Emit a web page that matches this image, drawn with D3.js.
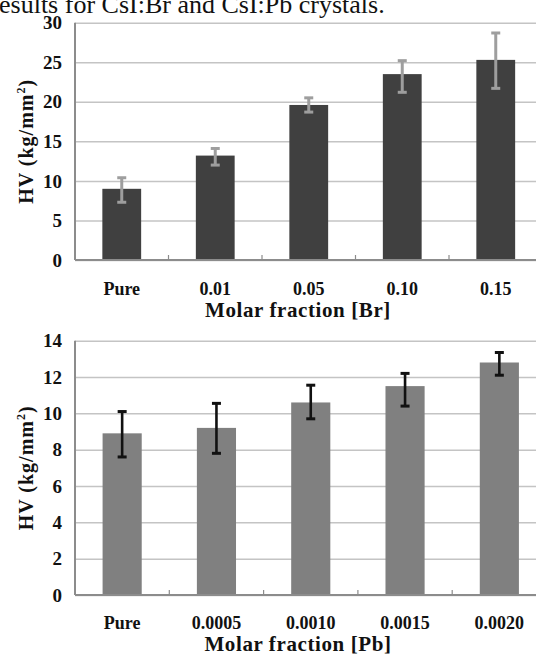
<!DOCTYPE html>
<html>
<head>
<meta charset="utf-8">
<script src="https://cdn.jsdelivr.net/npm/d3@7/dist/d3.min.js"></script>
<style>
  html, body { margin: 0; padding: 0; background: #fff; }
  svg { display: block; }
  text { font-family: "Liberation Serif", "Times New Roman", serif; }
</style>
</head>
<body>
<svg id="chart" width="536" height="657"></svg>
<script>
// CsI:Br panel
const brCategories = ["Pure", "0.01", "0.05", "0.10", "0.15"]
const brHV = [9.0, 13.2, 19.6, 23.5, 25.3]
const brErrLow = [7.3, 12.0, 18.7, 21.2, 21.7]
const brErrHigh = [10.4, 14.1, 20.5, 25.2, 28.7]
const brTicks = [0, 5, 10, 15, 20, 25, 30]

// CsI:Pb panel
const pbCategories = ["Pure", "0.0005", "0.0010", "0.0015", "0.0020"]
const pbHV = [8.9, 9.2, 10.6, 11.5, 12.8]
const pbErrLow = [7.6, 7.8, 9.7, 10.4, 12.1]
const pbErrHigh = [10.1, 10.55, 11.55, 12.2, 13.35]
const pbTicks = [0, 2, 4, 6, 8, 10, 12, 14]

const svg = d3.select("#chart")

// caption line cut off by the top of the page
svg.append("text")
  .attr("x", -1)
  .attr("y", 12.5)
  .attr("font-size", 26)
  .attr("fill", "#111")
  .text("esults for CsI:Br and CsI:Pb crystals.")

function drawPanel(opt) {
  const g = svg.append("g")
  const x = d3.scaleBand()
    .domain(opt.categories)
    .range([opt.left, opt.right])
  const y = d3.scaleLinear()
    .domain([0, d3.max(opt.ticks)])
    .range([opt.bottom, opt.top])
  const barW = x.bandwidth() * 0.415

  // grid lines
  g.append("g")
    .attr("transform", `translate(${opt.left},0)`)
    .call(d3.axisLeft(y).tickValues(opt.ticks).tickSize(-(opt.right - opt.left)).tickFormat(""))
    .call(a => a.select(".domain").remove())
    .call(a => a.selectAll("line").attr("stroke", "#c4c4c4").attr("stroke-width", 1.5))

  // y tick labels
  g.append("g")
    .selectAll("text")
    .data(opt.ticks)
    .join("text")
    .attr("x", opt.left - 13)
    .attr("y", d => y(d))
    .attr("dy", "0.35em")
    .attr("text-anchor", "end")
    .attr("font-size", 19)
    .attr("font-weight", "bold")
    .attr("fill", "#111")
    .text(d => d)

  // bars
  g.append("g")
    .selectAll("rect")
    .data(opt.values)
    .join("rect")
    .attr("x", (d, i) => x(opt.categories[i]) + x.bandwidth() / 2 - barW / 2)
    .attr("y", d => y(d))
    .attr("width", barW)
    .attr("height", d => y(0) - y(d))
    .attr("fill", opt.barColor)

  // error bars
  const err = g.append("g")
    .selectAll("g")
    .data(opt.values.map((d, i) => ({ c: opt.categories[i], lo: opt.errLow[i], hi: opt.errHigh[i] })))
    .join("g")
    .attr("stroke", opt.errColor)
  err.append("line")
    .attr("x1", d => x(d.c) + x.bandwidth() / 2)
    .attr("x2", d => x(d.c) + x.bandwidth() / 2)
    .attr("y1", d => y(d.lo))
    .attr("y2", d => y(d.hi))
    .attr("stroke-width", opt.errWidth)
  err.selectAll("line.cap")
    .data(d => [d.lo, d.hi].map(v => ({ c: d.c, v: v })))
    .join("line")
    .attr("class", "cap")
    .attr("x1", d => x(d.c) + x.bandwidth() / 2 - 4.5)
    .attr("x2", d => x(d.c) + x.bandwidth() / 2 + 4.5)
    .attr("y1", d => y(d.v))
    .attr("y2", d => y(d.v))
    .attr("stroke-width", 3)

  // axes lines
  g.append("line")
    .attr("x1", opt.left).attr("x2", opt.left)
    .attr("y1", y(d3.max(opt.ticks))).attr("y2", y(0))
    .attr("stroke", "#8c8c8c").attr("stroke-width", 2)
  g.append("line")
    .attr("x1", opt.left).attr("x2", opt.right)
    .attr("y1", y(0)).attr("y2", y(0))
    .attr("stroke", "#8c8c8c").attr("stroke-width", 2)

  // small ticks between categories, pointing up
  g.append("g")
    .selectAll("line")
    .data(opt.categories.slice(1))
    .join("line")
    .attr("x1", d => x(d)).attr("x2", d => x(d))
    .attr("y1", y(0)).attr("y2", y(0) - 5)
    .attr("stroke", "#8c8c8c").attr("stroke-width", 1.2)

  // category labels
  g.append("g")
    .selectAll("text")
    .data(opt.categories)
    .join("text")
    .attr("x", d => x(d) + x.bandwidth() / 2)
    .attr("y", opt.labelY)
    .attr("text-anchor", "middle")
    .attr("font-size", 18)
    .attr("font-weight", "bold")
    .attr("fill", "#111")
    .text(d => d)

  // x title
  g.append("text")
    .attr("x", opt.titleX)
    .attr("y", opt.titleY)
    .attr("text-anchor", "middle")
    .attr("font-size", 21)
    .attr("font-weight", "bold")
    .attr("letter-spacing", 0.6)
    .attr("fill", "#111")
    .text(opt.xTitle)

  // y title
  const yt = g.append("text")
    .attr("transform", `translate(33,${(opt.top + opt.bottom) / 2}) rotate(-90)`)
    .attr("text-anchor", "middle")
    .attr("font-size", 20)
    .attr("font-weight", "bold")
    .attr("letter-spacing", 1)
    .attr("fill", "#111")
  yt.append("tspan").text("HV (kg/mm")
  yt.append("tspan").attr("font-size", 12).attr("dy", -8).text("2")
  yt.append("tspan").attr("dy", 8).text(")")
}

drawPanel({
  categories: brCategories, values: brHV, errLow: brErrLow, errHigh: brErrHigh, ticks: brTicks,
  left: 75, right: 542.5, top: 22.7, bottom: 260,
  barColor: "#404040", errColor: "#9e9e9e", errWidth: 3,
  labelY: 295, titleX: 298, titleY: 317, xTitle: "Molar fraction [Br]"
})

drawPanel({
  categories: pbCategories, values: pbHV, errLow: pbErrLow, errHigh: pbErrHigh, ticks: pbTicks,
  left: 75, right: 546.5, top: 340.7, bottom: 595,
  barColor: "#808080", errColor: "#111", errWidth: 2.6,
  labelY: 629, titleX: 298, titleY: 651, xTitle: "Molar fraction [Pb]"
})
</script>
</body>
</html>
